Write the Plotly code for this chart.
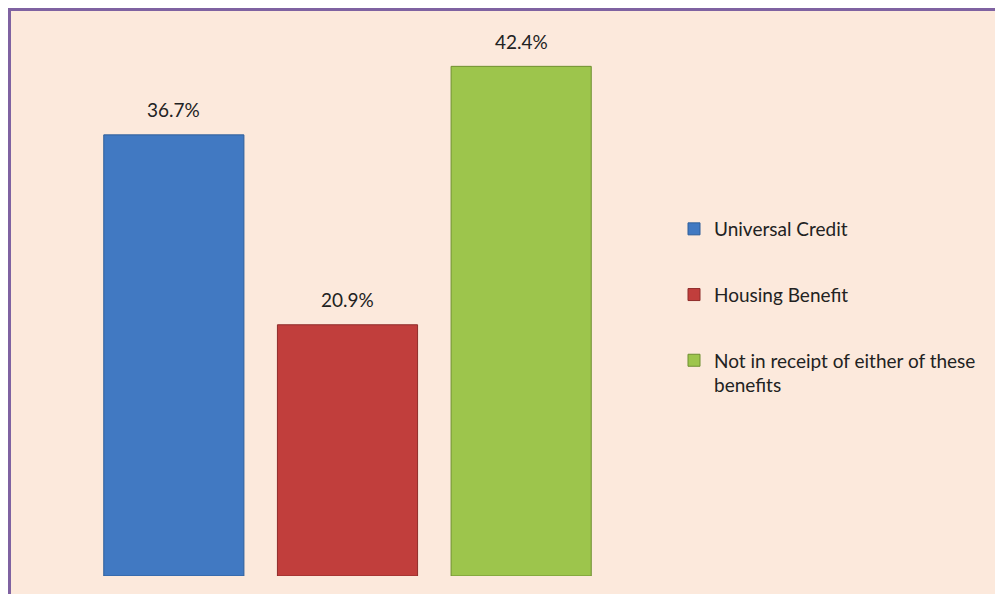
import plotly.graph_objects as go

categories = ["Universal Credit", "Housing Benefit", "Not in receipt of either of these benefits"]
legend_labels = ["Universal Credit", "Housing Benefit", "Not in receipt of either of these<br>benefits"]
values = [36.7, 20.9, 42.4]
colors = ["#4179c2", "#c13e3c", "#9dc54c"]
line_colors = ["#2f5f9a", "#8e2c2a", "#6f8f30"]

# page body has an 8px margin; figure fills the rest of the window
W, H = 995, 586
L, R, T, B = 79, 395, 12, 18
PW, PH = W - L - R, H - T - B

def px(x):
    return (x - L) / PW

def py(y):
    return (H - B - y) / PH

FONT = "Lato, Open Sans, sans-serif"

fig = go.Figure()
for i, (cat, lab, v, c, lc) in enumerate(zip(categories, legend_labels, values, colors, line_colors)):
    fig.add_trace(go.Bar(
        x=[i], y=[v], name=lab, width=0.807,
        marker=dict(color=c, line=dict(color=lc, width=1)),
        legendgroup=str(i),
    ))
    fig.add_annotation(x=i, y=v, text=f"{v:.1f}%", showarrow=False,
                       yshift=25, font=dict(family=FONT, size=19, color="#222222"))

peach = "#fce9dc"
purple = "#7f62a1"
shapes = [
    dict(type="rect", xref="paper", yref="paper", x0=px(0), x1=px(W), y0=py(0), y1=py(3),
         fillcolor=purple, line=dict(width=0), layer="below"),
    dict(type="rect", xref="paper", yref="paper", x0=px(0), x1=px(3), y0=py(0), y1=py(H),
         fillcolor=purple, line=dict(width=0), layer="below"),
]

fig.update_layout(
    width=W, height=H,
    margin=dict(l=L, r=R, t=T, b=B),
    paper_bgcolor=peach, plot_bgcolor=peach,
    barmode="overlay",
    shapes=shapes,
    xaxis=dict(range=[-0.5, 2.5], visible=False, fixedrange=True),
    yaxis=dict(range=[0, PH / 12.02], visible=False, fixedrange=True),
    showlegend=True,
    legend=dict(x=px(666), y=py(202), xanchor="left", yanchor="top",
                bgcolor="rgba(0,0,0,0)", font=dict(family=FONT, size=19, color="#222222"),
                tracegroupgap=38, valign="top", itemwidth=30),
)

fig.write_html("out.html")
